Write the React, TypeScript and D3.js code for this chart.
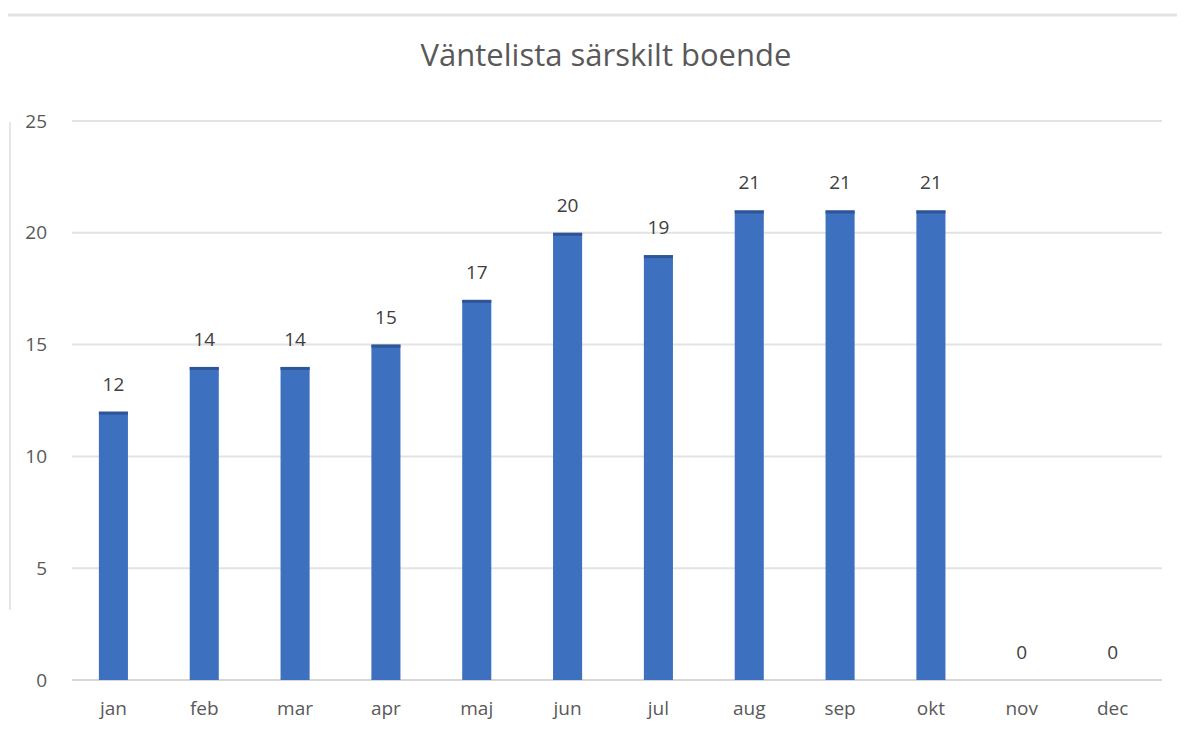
import React from 'react';
import * as d3 from 'd3';

const months = ['jan', 'feb', 'mar', 'apr', 'maj', 'jun', 'jul', 'aug', 'sep', 'okt', 'nov', 'dec'];
const waiting = [12, 14, 14, 15, 17, 20, 19, 21, 21, 21, 0, 0];
const yTicks = [0, 5, 10, 15, 20, 25];
const title = 'Väntelista särskilt boende';

const W = 1185;
const H = 731;
const FONT = '"Open Sans", "Noto Sans", sans-serif';

export default function App() {
    const x = d3.scaleBand<string>()
        .domain(months)
        .range([68, 1158])
        .paddingInner(0.68)
        .paddingOuter(0.34);
    const y = d3.scaleLinear().domain([0, 25]).range([680, 121]);

    const gridLeft = 72;
    const gridRight = 1162;

    return (
        <div style={{ margin: -8, background: '#fff' }}>
            <svg width={W} height={H} viewBox={`0 0 ${W} ${H}`} style={{ display: 'block' }} fontFamily={FONT}>
                <rect width={W} height={H} fill="#fff" />
                {/* frame remnants */}
                <line x1={8} x2={1180} y1={15} y2={15} stroke="#e2e2e2" strokeWidth={3} />
                <line x1={10} x2={10} y1={122} y2={610} stroke="#e6e6e6" strokeWidth={2} />

                <text x={606} y={66} textAnchor="middle" fontSize={31} fill="#595959">{title}</text>

                {yTicks.map((t) => (
                    <g key={t}>
                        <line x1={gridLeft} x2={gridRight} y1={y(t)} y2={y(t)} stroke={t === 0 ? '#d6d6d6' : '#e3e3e3'} strokeWidth={2} />
                        <text x={47} y={y(t)} dy="0.35em" textAnchor="end" fontSize={19} fill="#595959">{t}</text>
                    </g>
                ))}

                {months.map((m, i) => {
                    const v = waiting[i];
                    const bx = x(m)!;
                    const bw = x.bandwidth();
                    const cx = bx + bw / 2;
                    return (
                        <g key={m}>
                            {v > 0 && (
                                <>
                                    <rect x={bx} y={y(v)} width={bw} height={y(0) - y(v)} fill="#3d70bf" />
                                    <rect x={bx} y={y(v)} width={bw} height={3} fill="#2f5596" />
                                </>
                            )}
                            <text x={cx} y={y(v) - 21} textAnchor="middle" fontSize={19} fill="#404040">{v}</text>
                            <text x={cx} y={708} dy="0.35em" textAnchor="middle" fontSize={19} fill="#595959">{m}</text>
                        </g>
                    );
                })}
            </svg>
        </div>
    );
}
